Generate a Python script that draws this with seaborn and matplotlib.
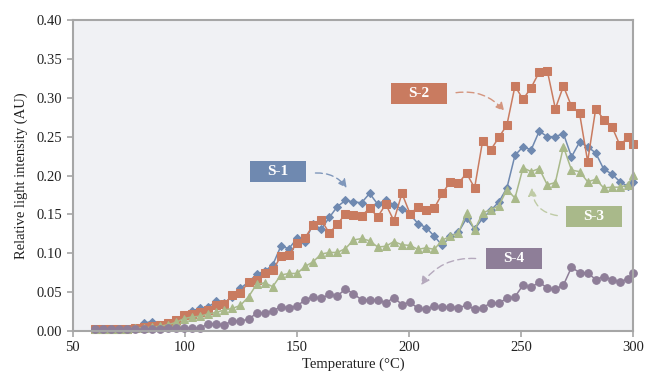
import numpy as np
import pandas as pd
import matplotlib
matplotlib.use('Agg')
import matplotlib.pyplot as plt
from matplotlib.patches import Rectangle
import seaborn as sns

# Temperature grid (°C)
temperature = [60.0, 63.6, 67.2, 70.8, 74.4, 78.0, 81.6, 85.2, 88.8, 92.4,
               96.0, 99.6, 103.2, 106.8, 110.4, 114.0, 117.6, 121.2, 124.8, 128.4,
               132.0, 135.6, 139.2, 142.8, 146.4, 150.0, 153.6, 157.2, 160.8, 164.4,
               168.0, 171.6, 175.2, 178.8, 182.4, 186.0, 189.6, 193.2, 196.8, 200.4,
               204.0, 207.6, 211.2, 214.8, 218.4, 222.0, 225.6, 229.2, 232.8, 236.4,
               240.0, 243.6, 247.2, 250.8, 254.4, 258.0, 261.6, 265.2, 268.8, 272.4,
               276.0, 279.6, 283.2, 286.8, 290.4, 294.0, 297.6, 300.0]

s1 = [0.003, 0.002, 0.002, 0.003, 0.003, 0.004, 0.010, 0.012, 0.007, 0.009,
      0.013, 0.020, 0.026, 0.029, 0.031, 0.038, 0.036, 0.044, 0.055, 0.063,
      0.073, 0.077, 0.085, 0.109, 0.106, 0.119, 0.115, 0.138, 0.131, 0.146,
      0.160, 0.168, 0.166, 0.165, 0.177, 0.163, 0.169, 0.162, 0.157, 0.150,
      0.138, 0.133, 0.122, 0.110, 0.122, 0.127, 0.145, 0.131, 0.145, 0.155,
      0.166, 0.184, 0.226, 0.237, 0.233, 0.257, 0.250, 0.250, 0.254, 0.224,
      0.243, 0.237, 0.229, 0.208, 0.202, 0.192, 0.186, 0.192]

s2 = [0.003, 0.003, 0.002, 0.003, 0.003, 0.004, 0.005, 0.006, 0.008, 0.010,
      0.014, 0.020, 0.022, 0.025, 0.027, 0.033, 0.035, 0.046, 0.049, 0.063,
      0.066, 0.074, 0.078, 0.096, 0.098, 0.113, 0.120, 0.136, 0.143, 0.126,
      0.137, 0.151, 0.149, 0.148, 0.158, 0.147, 0.163, 0.142, 0.177, 0.151,
      0.159, 0.156, 0.158, 0.177, 0.192, 0.190, 0.203, 0.184, 0.245, 0.233,
      0.249, 0.265, 0.315, 0.298, 0.313, 0.333, 0.335, 0.286, 0.315, 0.289,
      0.280, 0.218, 0.286, 0.272, 0.263, 0.239, 0.249, 0.241]

s3 = [0.003, 0.002, 0.002, 0.003, 0.003, 0.004, 0.004, 0.005, 0.006, 0.008,
      0.011, 0.016, 0.018, 0.019, 0.022, 0.024, 0.027, 0.029, 0.033, 0.044,
      0.060, 0.062, 0.057, 0.072, 0.074, 0.074, 0.083, 0.089, 0.099, 0.101,
      0.101, 0.106, 0.117, 0.119, 0.116, 0.108, 0.109, 0.115, 0.111, 0.110,
      0.105, 0.107, 0.105, 0.117, 0.122, 0.126, 0.152, 0.130, 0.152, 0.156,
      0.161, 0.182, 0.171, 0.210, 0.205, 0.209, 0.188, 0.191, 0.237, 0.207,
      0.205, 0.192, 0.195, 0.184, 0.185, 0.185, 0.188, 0.201]

s4 = [0.003, 0.002, 0.003, 0.003, 0.003, 0.002, 0.002, 0.003, 0.003, 0.004,
      0.004, 0.004, 0.004, 0.004, 0.009, 0.009, 0.008, 0.013, 0.013, 0.015,
      0.023, 0.023, 0.026, 0.031, 0.030, 0.032, 0.040, 0.044, 0.042, 0.047,
      0.045, 0.054, 0.048, 0.040, 0.040, 0.040, 0.036, 0.043, 0.034, 0.037,
      0.029, 0.028, 0.032, 0.031, 0.031, 0.030, 0.033, 0.028, 0.030, 0.036,
      0.036, 0.042, 0.044, 0.059, 0.056, 0.063, 0.055, 0.054, 0.059, 0.082,
      0.075, 0.075, 0.066, 0.070, 0.066, 0.063, 0.067, 0.075]

series_names = ['S-1', 'S-2', 'S-3', 'S-4']
colors = {'S-1': '#6F89B0', 'S-2': '#C97B60', 'S-3': '#A9B98A', 'S-4': '#8E7E98'}
arrow_colors = {'S-1': '#7F97BB', 'S-2': '#D4957E', 'S-3': '#BFCBA6', 'S-4': '#B5A9BD'}
markers = {'S-1': 'D', 'S-2': 's', 'S-3': '^', 'S-4': 'o'}
msizes = {'S-1': 4.5, 'S-2': 5.5, 'S-3': 6, 'S-4': 5.5}

df = pd.DataFrame({'Temperature': temperature, 'S-1': s1, 'S-2': s2, 'S-3': s3, 'S-4': s4})
long_df = df.melt(id_vars='Temperature', var_name='Sample', value_name='Intensity')

sns.set_style('ticks')
plt.rcParams['font.family'] = ['Liberation Serif', 'DejaVu Serif']

fig = plt.figure(figsize=(6.46, 3.76), dpi=100)
ax = fig.add_axes([0.1125, 0.1197, 0.868, 0.827])
ax.set_facecolor('#F0F1F4')

for name in series_names:
    sub = long_df[long_df['Sample'] == name]
    sns.lineplot(data=sub, x='Temperature', y='Intensity', ax=ax, color=colors[name],
                 marker=markers[name], markersize=msizes[name], markeredgecolor=colors[name],
                 linewidth=1.1, legend=False, clip_on=False)

ax.set_xlim(50, 300)
ax.set_ylim(0, 0.40)
ax.set_xticks([50, 100, 150, 200, 250, 300])
ax.set_yticks(np.arange(0, 0.401, 0.05))
ax.yaxis.set_major_formatter(matplotlib.ticker.FormatStrFormatter('%.2f'))
ax.tick_params(axis='both', labelsize=10.5, colors='#A6A6A6', labelcolor='#222222',
               length=4, width=1.2, direction='out')
ax.set_xlabel('Temperature (°C)', fontsize=10.5, color='#222222', labelpad=2)
ax.set_ylabel('Relative light intensity (AU)', fontsize=10.5, color='#222222', labelpad=6)
for sp in ax.spines.values():
    sp.set_visible(True)
    sp.set_color('#A6A6A6')
    sp.set_linewidth(1.5)

# labels: (box centre, arrow start, arrow end, curvature)
labels = {
    'S-1': ((141.5, 0.205), (157.0, 0.203), (172.9, 0.181), -0.3),
    'S-2': ((204.3, 0.306), (219.7, 0.306), (243.2, 0.280), -0.3),
    'S-3': ((282.4, 0.147), (267.3, 0.148), (254.7, 0.188), -0.45),
    'S-4': ((246.7, 0.093), (230.9, 0.093), (204.6, 0.056), 0.3),
}
box_w, box_h = 25.0, 0.027
for name, (pos, start, end, rad) in labels.items():
    ax.add_patch(Rectangle((pos[0] - box_w / 2, pos[1] - box_h / 2), box_w, box_h,
                           facecolor=colors[name], edgecolor='none', zorder=5))
    ax.text(pos[0], pos[1], name, ha='center', va='center', color='white',
            fontsize=11, fontweight='bold', zorder=6)
    ax.annotate('', xy=end, xytext=start,
                arrowprops=dict(arrowstyle='-|>,head_length=0.5,head_width=0.25',
                                color=arrow_colors[name], linestyle=(0, (5, 3)),
                                linewidth=1.0,
                                connectionstyle=f'arc3,rad={rad}'),
                zorder=4)

fig.savefig('out.png', dpi=100)
